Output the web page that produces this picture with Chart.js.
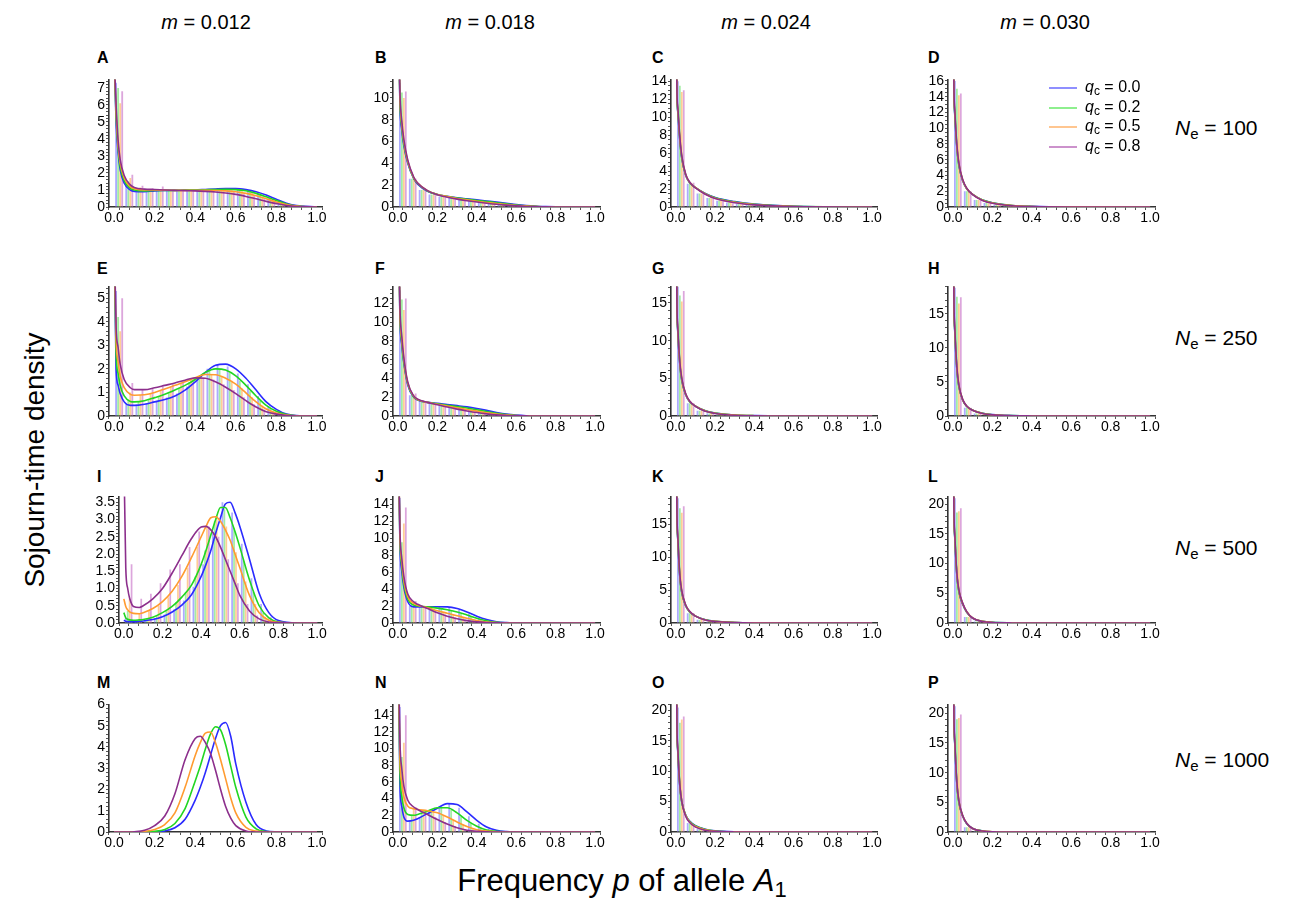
<!DOCTYPE html>
<html>
<head>
<meta charset="utf-8">
<script src="https://cdn.jsdelivr.net/npm/chart.js@4.4.1/dist/chart.umd.min.js"></script>
<style>
  body { margin: 0; background: #fff; font-family: "Liberation Sans", Arial, Helvetica, sans-serif; }
  #page { position: relative; width: 1303px; height: 915px; overflow: hidden; background: #fff; }
  .box { position: absolute; }
  .t { position: absolute; white-space: nowrap; color: #000; }
  .hd { font-size: 20px; line-height: 20px; transform: translateX(-50%); }
  .ne { font-size: 21px; line-height: 21px; }
  .ne sub { font-size: 15px; vertical-align: -4px; line-height: 0; }
  .let { font-size: 16px; line-height: 16px; font-weight: bold; }
  .leg { font-size: 16px; line-height: 16px; }
  .leg sub { font-size: 12px; vertical-align: -3px; line-height: 0; }
  .legline { position: absolute; height: 2px; width: 28px; }
  .xt { font-size: 31px; line-height: 31px; transform: translateX(-50%); }
  .xt sub { font-size: 22px; vertical-align: -6px; line-height: 0; }
  .yt { font-size: 28px; line-height: 28px; transform: translate(-50%, -50%) rotate(-90deg); }
</style>
</head>
<body>
<div id="page"></div>
<script>
// categories
var qcValues = ['0.0', '0.2', '0.5', '0.8'];
var mValues = ['0.012', '0.018', '0.024', '0.030'];
var neValues = ['100', '250', '500', '1000'];
var panelIds = ['A','B','C','D','E','F','G','H','I','J','K','L','M','N','O','P'];

// x grids for the curves
var xWide = [0, 0.01, 0.02, 0.03, 0.05, 0.08, 0.1, 0.15, 0.2, 0.25, 0.3, 0.35, 0.4, 0.45, 0.5, 0.55, 0.6, 0.65, 0.7, 0.75, 0.8, 0.85, 0.9, 1.0];
var xPeak = [0, 0.01, 0.02, 0.03, 0.05, 0.08, 0.1, 0.15, 0.2, 0.25, 0.3, 0.35, 0.4, 0.425, 0.45, 0.475, 0.5, 0.525, 0.55, 0.575, 0.6, 0.65, 0.7, 0.75, 0.8, 0.9, 1.0];
var xSpike = [0, 0.005, 0.01, 0.02, 0.03, 0.05, 0.07, 0.1, 0.15, 0.2, 0.3, 0.4, 0.6, 1.0];
// histogram bin centres
var binCenters = [0.025, 0.075, 0.125, 0.175, 0.225, 0.275, 0.325, 0.375, 0.425, 0.475, 0.525, 0.575, 0.625, 0.675, 0.725, 0.775, 0.825, 0.875, 0.925, 0.975];

// y axes
var yMax = [7.5, 11.7, 14.2, 16.2, 5.5, 13.8, 17.2, 19, 3.67, 14.9, 19.3, 21.3, 6, 15.3, 21, 21.5];
var yMajor = [1, 2, 2, 2, 1, 2, 5, 5, 0.5, 2, 5, 5, 1, 2, 5, 5];
var yMinor = [0.2, 0.5, 0.5, 0.5, 0.2, 0.5, 1, 1, 0.1, 0.5, 1, 1, 0.2, 0.5, 1, 1];
var yDecimals = [0, 0, 0, 0, 0, 0, 0, 0, 1, 0, 0, 0, 0, 0, 0, 0];

// curves: [qc=0.0, qc=0.2, qc=0.5, qc=0.8]
var curvesA = [
  [9, 5.0, 3.2, 2.2, 1.4, 1.0, 0.92, 0.9, 0.95, 0.97, 0.98, 0.99, 1.0, 1.03, 1.06, 1.08, 1.08, 1.02, 0.9, 0.7, 0.45, 0.22, 0.08, 0],
  [9, 5.3, 3.4, 2.4, 1.55, 1.1, 1.0, 0.95, 0.98, 0.98, 0.98, 0.99, 1.0, 1.01, 1.03, 1.04, 1.02, 0.95, 0.8, 0.6, 0.38, 0.18, 0.06, 0],
  [9, 5.6, 3.6, 2.6, 1.7, 1.2, 1.08, 1.0, 1.0, 0.99, 0.98, 0.98, 0.98, 0.98, 0.97, 0.95, 0.9, 0.8, 0.66, 0.48, 0.3, 0.14, 0.05, 0],
  [9, 6.0, 3.9, 2.8, 1.85, 1.3, 1.15, 1.05, 1.03, 1.0, 0.98, 0.96, 0.95, 0.92, 0.88, 0.82, 0.74, 0.62, 0.48, 0.33, 0.2, 0.09, 0.03, 0]
];
var curvesB = [
  [20, 9.5, 7.0, 5.6, 4.0, 2.6, 2.1, 1.45, 1.15, 0.98, 0.85, 0.75, 0.65, 0.55, 0.45, 0.34, 0.22, 0.13, 0.07, 0.03, 0.01, 0, 0, 0],
  [20, 9.8, 7.2, 5.8, 4.1, 2.65, 2.15, 1.47, 1.15, 0.97, 0.82, 0.7, 0.6, 0.5, 0.39, 0.29, 0.19, 0.11, 0.06, 0.02, 0.01, 0, 0, 0],
  [20, 10.2, 7.5, 6.0, 4.2, 2.7, 2.2, 1.5, 1.15, 0.95, 0.78, 0.65, 0.53, 0.42, 0.32, 0.22, 0.14, 0.08, 0.04, 0.02, 0, 0, 0, 0],
  [20, 10.6, 7.8, 6.2, 4.3, 2.75, 2.2, 1.5, 1.12, 0.9, 0.72, 0.58, 0.46, 0.35, 0.25, 0.17, 0.1, 0.05, 0.03, 0.01, 0, 0, 0, 0]
];
var curvesC = [
  [30, 13, 10.5, 7.4, 5.4, 3.5, 2.7, 2.15, 1.5, 1.05, 0.6, 0.32, 0.08, 0],
  [30, 13, 10.6, 7.5, 5.5, 3.55, 2.72, 2.15, 1.48, 1.02, 0.56, 0.3, 0.07, 0],
  [30, 13.2, 10.8, 7.6, 5.6, 3.6, 2.75, 2.15, 1.45, 0.98, 0.52, 0.27, 0.06, 0],
  [30, 13.4, 11, 7.8, 5.7, 3.65, 2.78, 2.12, 1.42, 0.94, 0.48, 0.24, 0.05, 0]
];
var curvesD = [
  [35, 15, 11.5, 7.5, 5.3, 3.3, 2.3, 1.6, 0.9, 0.55, 0.2, 0.08, 0.01, 0],
  [35, 15.2, 11.7, 7.6, 5.4, 3.35, 2.32, 1.6, 0.88, 0.53, 0.19, 0.07, 0.01, 0],
  [35, 15.4, 11.9, 7.7, 5.5, 3.4, 2.35, 1.6, 0.86, 0.5, 0.17, 0.06, 0.01, 0],
  [35, 15.6, 12.1, 7.9, 5.6, 3.45, 2.38, 1.58, 0.83, 0.47, 0.15, 0.05, 0, 0]
];
var curvesE = [
  [8, 2.0, 1.3, 0.95, 0.6, 0.45, 0.45, 0.5, 0.6, 0.7, 0.85, 1.1, 1.45, 1.85, 2.15, 2.2, 2.0, 1.6, 1.1, 0.6, 0.28, 0.08, 0.02, 0],
  [8, 2.6, 1.8, 1.3, 0.85, 0.62, 0.6, 0.65, 0.78, 0.92, 1.1, 1.3, 1.55, 1.85, 2.0, 1.95, 1.7, 1.3, 0.85, 0.45, 0.2, 0.06, 0.01, 0],
  [8, 3.2, 2.3, 1.7, 1.2, 0.92, 0.88, 0.9, 1.0, 1.15, 1.3, 1.45, 1.62, 1.76, 1.75, 1.6, 1.35, 0.98, 0.6, 0.3, 0.13, 0.04, 0.01, 0],
  [8, 3.8, 2.9, 2.2, 1.55, 1.2, 1.12, 1.12, 1.2, 1.3, 1.4, 1.52, 1.62, 1.6, 1.45, 1.22, 0.95, 0.65, 0.38, 0.18, 0.08, 0.02, 0, 0]
];
var curvesF = [
  [25, 10.5, 7.5, 5.6, 3.3, 2.0, 1.7, 1.45, 1.35, 1.22, 1.1, 0.97, 0.8, 0.6, 0.38, 0.2, 0.09, 0.03, 0.01, 0, 0, 0, 0, 0],
  [25, 10.8, 7.7, 5.8, 3.4, 2.05, 1.72, 1.45, 1.3, 1.15, 1.0, 0.85, 0.66, 0.47, 0.29, 0.15, 0.06, 0.02, 0.01, 0, 0, 0, 0, 0],
  [25, 11.2, 8.0, 6.0, 3.5, 2.1, 1.75, 1.45, 1.25, 1.05, 0.87, 0.7, 0.52, 0.35, 0.2, 0.1, 0.04, 0.01, 0, 0, 0, 0, 0, 0],
  [25, 11.8, 8.4, 6.2, 3.6, 2.15, 1.8, 1.45, 1.2, 0.95, 0.73, 0.54, 0.37, 0.23, 0.12, 0.06, 0.02, 0.01, 0, 0, 0, 0, 0, 0]
];
var curvesG = [
  [35, 15, 11, 6.8, 4.7, 2.8, 1.9, 1.3, 0.7, 0.4, 0.14, 0.05, 0.01, 0],
  [35, 15.2, 11.2, 6.9, 4.8, 2.85, 1.92, 1.3, 0.68, 0.38, 0.13, 0.04, 0, 0],
  [35, 15.4, 11.4, 7.0, 4.9, 2.9, 1.95, 1.3, 0.66, 0.36, 0.12, 0.04, 0, 0],
  [35, 15.6, 11.6, 7.2, 5.0, 2.95, 1.98, 1.28, 0.63, 0.34, 0.1, 0.03, 0, 0]
];
var curvesH = [
  [40, 17, 12, 6.8, 4.3, 2.3, 1.4, 0.85, 0.4, 0.2, 0.05, 0.01, 0, 0],
  [40, 17.2, 12.2, 6.9, 4.4, 2.33, 1.42, 0.85, 0.39, 0.19, 0.05, 0.01, 0, 0],
  [40, 17.4, 12.4, 7.0, 4.5, 2.36, 1.44, 0.85, 0.38, 0.18, 0.04, 0.01, 0, 0],
  [40, 17.6, 12.6, 7.2, 4.6, 2.4, 1.46, 0.84, 0.36, 0.17, 0.04, 0.01, 0, 0]
];
var curvesI = [
  [0.08, 0.05, 0.04, 0.04, 0.04, 0.05, 0.06, 0.1, 0.18, 0.32, 0.52, 0.82, 1.35, 1.7, 2.1, 2.6, 3.05, 3.45, 3.5, 3.2, 2.8, 1.85, 0.86, 0.3, 0.07, 0, 0],
  [0.3, 0.15, 0.11, 0.09, 0.08, 0.09, 0.1, 0.17, 0.3, 0.48, 0.75, 1.1, 1.7, 2.1, 2.55, 3.0, 3.35, 3.35, 3.05, 2.65, 2.2, 1.25, 0.5, 0.15, 0.03, 0, 0],
  [0.7, 0.48, 0.38, 0.32, 0.28, 0.27, 0.3, 0.42, 0.62, 0.92, 1.35, 1.9, 2.5, 2.8, 3.05, 3.08, 2.95, 2.7, 2.4, 2.0, 1.6, 0.8, 0.3, 0.08, 0.02, 0, 0],
  [5, 1.6, 1.0, 0.72, 0.48, 0.45, 0.5, 0.7, 1.0, 1.45, 1.95, 2.45, 2.78, 2.8, 2.7, 2.5, 2.2, 1.85, 1.5, 1.15, 0.8, 0.35, 0.12, 0.03, 0.01, 0, 0]
];
var curvesJ = [
  [25, 9.5, 6.0, 4.2, 2.5, 1.9, 1.9, 1.9, 1.92, 1.9, 1.7, 1.3, 0.8, 0.4, 0.14, 0.04, 0.01, 0, 0, 0, 0, 0, 0, 0],
  [25, 10, 6.5, 4.6, 2.8, 2.1, 2.0, 1.9, 1.75, 1.55, 1.3, 0.95, 0.56, 0.26, 0.08, 0.02, 0, 0, 0, 0, 0, 0, 0, 0],
  [25, 10.5, 7.0, 5.0, 3.1, 2.3, 2.1, 1.8, 1.45, 1.15, 0.85, 0.55, 0.3, 0.12, 0.04, 0.01, 0, 0, 0, 0, 0, 0, 0, 0],
  [25, 11, 7.5, 5.5, 3.4, 2.5, 2.2, 1.7, 1.2, 0.8, 0.5, 0.28, 0.13, 0.05, 0.02, 0, 0, 0, 0, 0, 0, 0, 0, 0]
];
var curvesK = [
  [40, 17, 12.5, 7.0, 4.6, 2.6, 1.7, 1.05, 0.5, 0.27, 0.08, 0.02, 0, 0],
  [40, 17.2, 12.7, 7.1, 4.7, 2.65, 1.72, 1.05, 0.49, 0.26, 0.08, 0.02, 0, 0],
  [40, 17.4, 12.9, 7.2, 4.8, 2.7, 1.75, 1.05, 0.47, 0.25, 0.07, 0.02, 0, 0],
  [40, 17.6, 13.1, 7.4, 4.9, 2.75, 1.78, 1.04, 0.45, 0.23, 0.06, 0.01, 0, 0]
];
var curvesL = [
  [45, 19, 14, 8.0, 5.3, 3.1, 1.8, 0.8, 0.28, 0.1, 0.02, 0, 0, 0],
  [45, 19.2, 14.2, 8.1, 5.4, 3.2, 1.85, 0.82, 0.28, 0.1, 0.02, 0, 0, 0],
  [45, 19.4, 14.4, 8.2, 5.5, 3.25, 1.9, 0.84, 0.27, 0.09, 0.01, 0, 0, 0],
  [45, 19.6, 14.6, 8.4, 5.6, 3.3, 1.92, 0.84, 0.26, 0.09, 0.01, 0, 0, 0]
];
var curvesM = [
  [0, 0, 0, 0, 0, 0, 0, 0, 0.01, 0.05, 0.2, 0.6, 1.5, 2.1, 2.8, 3.6, 4.4, 5.0, 5.15, 4.5, 3.2, 1.4, 0.35, 0.05, 0.01, 0, 0],
  [0, 0, 0, 0, 0, 0, 0, 0, 0.03, 0.12, 0.4, 1.1, 2.4, 3.1, 3.9, 4.6, 4.95, 4.8, 4.1, 3.1, 2.1, 0.7, 0.15, 0.02, 0, 0, 0],
  [0, 0, 0, 0, 0, 0, 0, 0.03, 0.12, 0.35, 0.9, 2.1, 3.6, 4.2, 4.65, 4.7, 4.2, 3.4, 2.5, 1.6, 0.9, 0.22, 0.04, 0, 0, 0, 0],
  [0, 0, 0, 0, 0, 0, 0.01, 0.08, 0.3, 0.75, 1.8, 3.4, 4.4, 4.5, 4.2, 3.7, 2.9, 2.0, 1.2, 0.65, 0.3, 0.05, 0, 0, 0, 0, 0]
];
var curvesN = [
  [25, 6.0, 3.0, 1.8, 1.3, 1.4, 1.6, 2.2, 2.85, 3.4, 3.3, 2.4, 1.4, 0.6, 0.2, 0.05, 0.01, 0, 0, 0, 0, 0, 0, 0],
  [25, 7.5, 4.2, 2.9, 2.1, 2.0, 2.1, 2.5, 2.9, 2.9, 2.3, 1.4, 0.7, 0.25, 0.07, 0.02, 0, 0, 0, 0, 0, 0, 0, 0],
  [25, 9.0, 5.8, 4.2, 3.1, 2.8, 2.7, 2.55, 2.3, 1.8, 1.2, 0.65, 0.28, 0.1, 0.03, 0, 0, 0, 0, 0, 0, 0, 0, 0],
  [25, 11, 7.5, 5.5, 3.8, 3.0, 2.7, 2.1, 1.5, 0.95, 0.5, 0.22, 0.08, 0.02, 0, 0, 0, 0, 0, 0, 0, 0, 0, 0]
];
var curvesO = [
  [45, 18, 13, 7.5, 4.9, 2.8, 1.8, 1.05, 0.45, 0.18, 0.03, 0.01, 0, 0],
  [45, 18.2, 13.2, 7.6, 5.0, 2.75, 1.72, 0.98, 0.4, 0.15, 0.02, 0, 0, 0],
  [45, 18.4, 13.4, 7.7, 5.0, 2.7, 1.65, 0.9, 0.35, 0.12, 0.02, 0, 0, 0],
  [45, 18.6, 13.6, 7.8, 5.0, 2.6, 1.55, 0.8, 0.3, 0.1, 0.01, 0, 0, 0]
];
var curvesP = [
  [45, 19.5, 14.5, 8.0, 5.0, 2.6, 1.4, 0.6, 0.18, 0.05, 0.01, 0, 0, 0],
  [45, 19.7, 14.7, 8.1, 5.1, 2.65, 1.42, 0.6, 0.18, 0.05, 0.01, 0, 0, 0],
  [45, 19.9, 14.9, 8.2, 5.2, 2.7, 1.45, 0.6, 0.17, 0.05, 0, 0, 0, 0],
  [45, 20.1, 15.1, 8.4, 5.3, 2.75, 1.48, 0.6, 0.17, 0.04, 0, 0, 0, 0]
];

// histogram bars per bin: [qc=0.0, qc=0.2, qc=0.5, qc=0.8]
var barsA = [
  [7.3, 1.4, 1.0, 0.95, 0.95, 0.95, 1.0, 1.0, 1.0, 1.0, 1.05, 1.1, 1.1, 1.0, 0.8, 0.6, 0.35, 0.15, 0.05, 0.01],
  [7.0, 1.5, 1.05, 1.0, 1.0, 1.0, 1.0, 1.0, 1.0, 1.0, 1.0, 1.05, 1.05, 0.95, 0.7, 0.5, 0.3, 0.12, 0.04, 0.01],
  [6.1, 1.7, 1.15, 1.05, 1.0, 1.0, 1.0, 1.0, 1.0, 1.0, 0.98, 0.98, 0.95, 0.85, 0.6, 0.4, 0.22, 0.08, 0.03, 0.01],
  [6.8, 1.9, 1.25, 1.1, 1.2, 1.0, 1.0, 1.0, 0.98, 0.95, 0.92, 0.9, 0.8, 0.7, 0.5, 0.3, 0.15, 0.05, 0.02, 0]
];
var barsB = [
  [11.4, 2.6, 1.55, 1.15, 0.95, 0.85, 0.75, 0.65, 0.6, 0.5, 0.4, 0.3, 0.2, 0.12, 0.07, 0.03, 0.01],
  [10.5, 2.6, 1.55, 1.15, 0.95, 0.82, 0.7, 0.6, 0.52, 0.44, 0.34, 0.24, 0.16, 0.1, 0.05, 0.02, 0.01],
  [10.0, 2.6, 1.55, 1.15, 0.92, 0.78, 0.64, 0.52, 0.42, 0.34, 0.25, 0.17, 0.1, 0.06, 0.03, 0.01],
  [10.6, 2.6, 1.55, 1.12, 0.88, 0.72, 0.56, 0.44, 0.34, 0.26, 0.18, 0.12, 0.07, 0.04, 0.02, 0.01]
];
var barsC = [
  [14.0, 2.6, 1.5, 1.0, 0.7, 0.5, 0.35, 0.25, 0.17, 0.12, 0.08, 0.05, 0.03, 0.02, 0.01],
  [13.5, 2.6, 1.5, 1.0, 0.7, 0.48, 0.33, 0.23, 0.16, 0.11, 0.07, 0.04, 0.02, 0.01],
  [12.8, 2.65, 1.5, 0.98, 0.68, 0.46, 0.31, 0.21, 0.14, 0.09, 0.06, 0.03, 0.02, 0.01],
  [13.0, 2.7, 1.5, 0.95, 0.65, 0.43, 0.29, 0.19, 0.12, 0.08, 0.05, 0.03, 0.01]
];
var barsD = [
  [16, 2.0, 0.9, 0.5, 0.3, 0.18, 0.1, 0.06, 0.03, 0.01],
  [15, 2.0, 0.9, 0.5, 0.3, 0.17, 0.09, 0.05, 0.03, 0.01],
  [14.2, 2.0, 0.9, 0.48, 0.28, 0.16, 0.09, 0.05, 0.02, 0.01],
  [14.4, 2.0, 0.88, 0.46, 0.26, 0.15, 0.08, 0.04, 0.02, 0.01]
];
var barsE = [
  [5.3, 0.5, 0.5, 0.55, 0.65, 0.78, 0.95, 1.25, 1.65, 2.0, 2.2, 2.1, 1.8, 1.35, 0.85, 0.42, 0.16, 0.04, 0.01, 0],
  [4.2, 0.7, 0.62, 0.7, 0.85, 1.0, 1.2, 1.42, 1.7, 1.95, 2.0, 1.85, 1.5, 1.05, 0.65, 0.32, 0.12, 0.03, 0.01, 0],
  [3.6, 1.0, 0.9, 0.95, 1.08, 1.22, 1.38, 1.55, 1.7, 1.78, 1.7, 1.5, 1.18, 0.8, 0.45, 0.2, 0.08, 0.02, 0, 0],
  [5.0, 1.4, 1.12, 1.15, 1.25, 1.35, 1.46, 1.58, 1.62, 1.55, 1.35, 1.1, 0.8, 0.5, 0.28, 0.12, 0.05, 0.01, 0, 0]
];
var barsF = [
  [13.4, 2.2, 1.6, 1.4, 1.3, 1.15, 1.05, 0.9, 0.7, 0.5, 0.28, 0.14, 0.05, 0.02],
  [12.4, 2.2, 1.6, 1.38, 1.22, 1.08, 0.92, 0.75, 0.56, 0.38, 0.22, 0.1, 0.04, 0.01],
  [11.3, 2.3, 1.6, 1.35, 1.15, 0.96, 0.78, 0.6, 0.43, 0.28, 0.15, 0.07, 0.02, 0.01],
  [12.5, 2.4, 1.6, 1.32, 1.08, 0.84, 0.63, 0.45, 0.3, 0.18, 0.09, 0.04, 0.01]
];
var barsG = [
  [17.2, 1.7, 0.7, 0.35, 0.18, 0.09, 0.05, 0.02, 0.01],
  [16, 1.7, 0.7, 0.34, 0.17, 0.08, 0.04, 0.02, 0.01],
  [15.2, 1.7, 0.68, 0.32, 0.16, 0.08, 0.04, 0.02],
  [16.6, 1.7, 0.66, 0.3, 0.15, 0.07, 0.03, 0.01]
];
var barsH = [
  [18.8, 1.2, 0.35, 0.12, 0.05, 0.02],
  [17.5, 1.2, 0.35, 0.12, 0.05, 0.02],
  [16.5, 1.2, 0.34, 0.11, 0.04, 0.02],
  [17.4, 1.2, 0.33, 0.1, 0.04, 0.01]
];
var barsI = [
  [0.15, 0.05, 0.08, 0.14, 0.25, 0.4, 0.65, 1.05, 1.7, 2.6, 3.5, 3.2, 2.3, 1.3, 0.55, 0.17, 0.04],
  [0.35, 0.09, 0.13, 0.22, 0.38, 0.6, 0.9, 1.35, 2.1, 2.95, 3.3, 2.75, 1.8, 0.9, 0.3, 0.08, 0.01],
  [0.7, 0.28, 0.35, 0.5, 0.75, 1.1, 1.6, 2.2, 2.8, 3.1, 2.8, 2.05, 1.2, 0.55, 0.18, 0.05, 0.01],
  [1.7, 0.7, 0.85, 1.15, 1.55, 1.7, 2.2, 2.65, 2.8, 2.5, 1.85, 1.15, 0.55, 0.22, 0.07, 0.02]
];
var barsJ = [
  [14.7, 2.0, 1.9, 1.9, 1.9, 1.85, 1.55, 1.1, 0.6, 0.26, 0.08, 0.02],
  [9.5, 2.2, 1.95, 1.82, 1.65, 1.45, 1.12, 0.75, 0.4, 0.16, 0.05, 0.01],
  [11.7, 2.4, 1.95, 1.62, 1.3, 1.0, 0.7, 0.42, 0.2, 0.08, 0.02],
  [13.6, 2.6, 1.95, 1.45, 1.0, 0.65, 0.38, 0.2, 0.09, 0.03, 0.01]
];
var barsK = [
  [19, 1.5, 0.5, 0.22, 0.1, 0.04, 0.02],
  [17.5, 1.5, 0.5, 0.21, 0.1, 0.04, 0.02],
  [16.8, 1.5, 0.48, 0.2, 0.09, 0.04, 0.01],
  [17.8, 1.5, 0.46, 0.19, 0.08, 0.03, 0.01]
];
var barsL = [
  [21, 1.0, 0.25, 0.06, 0.02],
  [18.6, 1.0, 0.25, 0.06, 0.02],
  [18.8, 1.0, 0.24, 0.05, 0.01],
  [19.3, 1.0, 0.23, 0.05, 0.01]
];
var barsM = [[], [], [], []];
var barsN = [
  [15, 1.4, 1.8, 2.5, 3.1, 3.4, 2.9, 1.9, 1.0, 0.4, 0.12, 0.03],
  [9, 2.0, 2.3, 2.7, 2.95, 2.65, 1.85, 1.05, 0.45, 0.15, 0.04],
  [10.7, 2.8, 2.6, 2.45, 2.05, 1.5, 0.92, 0.45, 0.18, 0.06, 0.01],
  [14, 3.0, 2.4, 1.8, 1.2, 0.72, 0.35, 0.14, 0.05, 0.01]
];
var barsO = [
  [20.5, 1.5, 0.5, 0.15, 0.04, 0.01],
  [18.0, 1.4, 0.45, 0.12, 0.03, 0.01],
  [18.5, 1.35, 0.4, 0.1, 0.03],
  [19.0, 1.3, 0.35, 0.08, 0.02]
];
var barsP = [
  [21.2, 0.8, 0.15, 0.03],
  [19.0, 0.8, 0.15, 0.03],
  [19.2, 0.8, 0.14, 0.03],
  [19.8, 0.8, 0.14, 0.02]
];

var panelGrids = [xWide, xWide, xSpike, xSpike, xWide, xWide, xSpike, xSpike, xPeak, xWide, xSpike, xSpike, xPeak, xWide, xSpike, xSpike];
var panelCurves = [curvesA, curvesB, curvesC, curvesD, curvesE, curvesF, curvesG, curvesH, curvesI, curvesJ, curvesK, curvesL, curvesM, curvesN, curvesO, curvesP];
var panelBars = [barsA, barsB, barsC, barsD, barsE, barsF, barsG, barsH, barsI, barsJ, barsK, barsL, barsM, barsN, barsO, barsP];

// styles
var lineColors = ['#2b2bff', '#22d622', '#ff9b30', '#8c2f8c'];
var legendColors = ['#8f8fff', '#8eef8e', '#ffc690', '#cc92cc'];
var barColors = ['rgba(150,150,255,0.8)', 'rgba(140,232,140,0.8)', 'rgba(255,196,132,0.85)', 'rgba(214,150,214,0.85)'];
var fontFamily = '"Liberation Sans", Arial, Helvetica, sans-serif';

var colLeft = [109, 393, 671, 948];
var colRight = [322, 600, 877, 1155];
var rowTop = [78, 285, 495, 703];
var rowBottom = [207, 416, 623, 832];
var letterLeft = [97, 375, 652, 928];
var letterTop = [52, 263, 471, 677];
var headCenter = [206, 490, 766, 1045];
var rowLabelY = [128, 338, 548, 760];

var page = document.getElementById('page');

function addText(cls, html, left, top) {
  var d = document.createElement('div');
  d.className = 't ' + cls;
  d.innerHTML = html;
  d.style.left = left + 'px';
  d.style.top = top + 'px';
  page.appendChild(d);
  return d;
}

function isMultiple(v, step) {
  var r = v / step;
  return Math.abs(r - Math.round(r)) < 1e-6;
}

function plotarPainel(n) {
  var row = Math.floor(n / 4), col = n % 4;
  var left = colLeft[col] + (yDecimals[n] ? 10 : 0);
  var right = colRight[col];
  var top = rowTop[row], bottom = rowBottom[row];
  var padL = 44, padT = 8, padR = 16, padB = 24;
  var w = right - left + padL + padR;
  var h = bottom - top + padT + padB;

  var box = document.createElement('div');
  box.className = 'box';
  box.style.left = (left - padL) + 'px';
  box.style.top = (top - padT) + 'px';
  box.style.width = w + 'px';
  box.style.height = h + 'px';
  var canvas = document.createElement('canvas');
  canvas.width = w;
  canvas.height = h;
  box.appendChild(canvas);
  page.appendChild(box);

  var datasets = [];
  var xs = panelGrids[n];
  for (var k = 0; k < 4; k++) {
    var curve = panelCurves[n][k];
    datasets.push({
      type: 'line',
      label: 'qc = ' + qcValues[k],
      data: xs.map(function (x, i) { return {x: x, y: curve[i]}; }),
      borderColor: lineColors[k],
      borderWidth: 1.6,
      pointRadius: 0,
      fill: false,
      cubicInterpolationMode: 'monotone',
      order: 4 - k   // qc = 0.8 drawn last, on top
    });
  }
  for (var k2 = 0; k2 < 4; k2++) {
    var bars = panelBars[n][k2];
    datasets.push({
      type: 'bar',
      label: 'hist ' + qcValues[k2],
      data: bars.map(function (v, i) { return {x: binCenters[i], y: v}; }),
      backgroundColor: barColors[k2],
      borderWidth: 0,
      categoryPercentage: 0.8,
      barPercentage: 0.9,
      order: 10 + k2
    });
  }

  var tickFont = {family: fontFamily, size: 14};
  var config = {
    type: 'line',
    data: {datasets: datasets},
    options: {
      responsive: false,
      animation: false,
      layout: {padding: {left: 0, top: padT, right: padR, bottom: 0}},
      plugins: {legend: {display: false}, tooltip: {enabled: false}},
      scales: {
        x: {
          type: 'linear', min: 0, max: 1,
          ticks: {
            stepSize: 0.05, autoSkip: false, maxRotation: 0, padding: 0,
            color: '#000', font: tickFont,
            callback: function (v) { return isMultiple(v, 0.2) ? v.toFixed(1) : ''; }
          },
          grid: {drawOnChartArea: false, drawTicks: true, tickLength: 3, color: '#555'},
          border: {display: true, color: '#333', width: 1.6},
          afterFit: function (s) { s.height = padB; }
        },
        y: {
          type: 'linear', min: 0, max: yMax[n],
          ticks: {
            stepSize: yMinor[n], includeBounds: false, autoSkip: false, padding: 1,
            color: '#000', font: tickFont,
            callback: function (v) { return isMultiple(v, yMajor[n]) ? v.toFixed(yDecimals[n]) : ''; }
          },
          grid: {drawOnChartArea: false, drawTicks: true, tickLength: 3, color: '#555'},
          border: {display: true, color: '#333', width: 1.6},
          afterFit: function (s) { s.width = padL; }
        }
      }
    }
  };

  new Chart(canvas, config);

  addText('let', panelIds[n], letterLeft[col], letterTop[row] - 2);
}

for (var n = 0; n < 16; n++) {
  plotarPainel(n);
}

// column headers
for (var c = 0; c < 4; c++) {
  addText('hd', '<i>m</i> = ' + mValues[c], headCenter[c], 12);
}
// row labels
for (var r = 0; r < 4; r++) {
  addText('ne', '<i>N</i><sub>e</sub> = ' + neValues[r], 1175, rowLabelY[r] - 11);
}
// legend inside panel D
var legendY = [88, 108, 127, 147];
for (var q = 0; q < 4; q++) {
  var ln = document.createElement('div');
  ln.className = 'legline';
  ln.style.left = '1049px';
  ln.style.top = (legendY[q] - 1) + 'px';
  ln.style.background = legendColors[q];
  page.appendChild(ln);
  addText('leg', '<i>q</i><sub>c</sub> = ' + qcValues[q], 1085, legendY[q] - 9);
}
// axis titles
addText('xt', 'Frequency <i>p</i> of allele <i>A</i><sub>1</sub>', 622, 865);
addText('yt', 'Sojourn-time density', 35, 460);
</script>
</body>
</html>
